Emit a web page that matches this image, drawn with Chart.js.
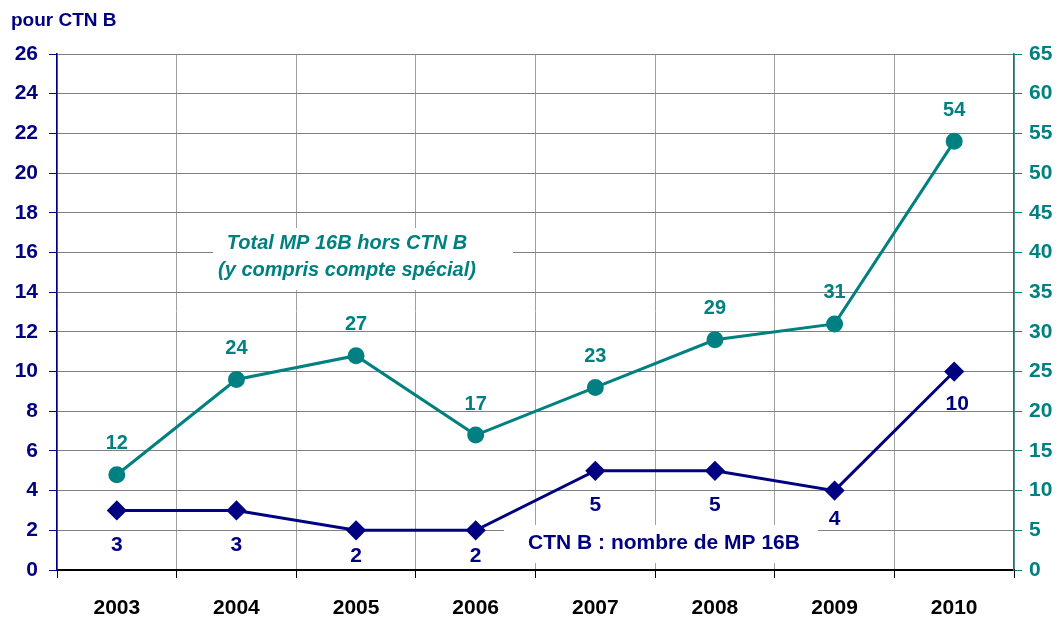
<!DOCTYPE html>
<html>
<head>
<meta charset="utf-8">
<script src="https://cdn.jsdelivr.net/npm/chart.js@4.4.1/dist/chart.umd.min.js"></script>
<style>
  html, body { margin: 0; padding: 0; background: #fff; }
  #wrap { width: 1058px; height: 619px; position: relative; }
</style>
</head>
<body>
<div id="wrap"><canvas id="chart" width="1058" height="619"></canvas></div>
<script>
// data
const years = ['2003', '2004', '2005', '2006', '2007', '2008', '2009', '2010'];
const ctnB = [3, 3, 2, 2, 5, 5, 4, 10];
const totalHorsCtnB = [12, 24, 27, 17, 23, 29, 31, 54];

const NAVY = '#000080';
const TEAL = '#008080';
const FONT = '"Liberation Sans", Arial, sans-serif';

// value labels above / below each point
const pointLabels = {
  id: 'pointLabels',
  afterDatasetsDraw(chart, args, opts) {
    const ctx = chart.ctx;
    ctx.save();
    ctx.textAlign = 'center';
    ctx.textBaseline = 'middle';
    chart.data.datasets.forEach((ds, i) => {
      const meta = chart.getDatasetMeta(i);
      ctx.fillStyle = ds.borderColor;
      ctx.font = (i === 0 ? 'bold 21px ' : 'bold 20px ') + FONT;
      meta.data.forEach((pt, j) => {
        const dy = i === 0 ? opts.below[j] : -31;
        ctx.fillText(String(ds.data[j]), pt.x + (i === 0 && j === 7 ? 3 : 0), pt.y + dy);
      });
    });
    ctx.restore();
  }
};

// text boxes and the title
const notes = {
  id: 'notes',
  beforeDatasetsDraw(chart) {
    const ctx = chart.ctx;
    ctx.save();
    ctx.fillStyle = '#fff';
    ctx.fillRect(213, 228, 300, 62);
    ctx.fillRect(504, 525, 314, 38);
    ctx.textAlign = 'center';
    ctx.textBaseline = 'middle';
    ctx.fillStyle = TEAL;
    ctx.font = 'italic bold 20px ' + FONT;
    ctx.fillText('Total MP 16B hors CTN B', 347, 243);
    ctx.fillText('(y compris compte spécial)', 347, 270);
    ctx.fillStyle = NAVY;
    ctx.font = 'bold 21px ' + FONT;
    ctx.fillText('CTN B : nombre de MP 16B', 664, 543);
    ctx.restore();
  },
  afterDraw(chart) {
    const ctx = chart.ctx;
    ctx.save();
    ctx.fillStyle = NAVY;
    ctx.font = 'bold 19px ' + FONT;
    ctx.textAlign = 'left';
    ctx.textBaseline = 'middle';
    ctx.fillText('pour CTN B', 11, 21);
    ctx.restore();
  }
};

new Chart(document.getElementById('chart'), {
  type: 'line',
  data: {
    labels: years,
    datasets: [
      {
        label: 'CTN B : nombre de MP 16B',
        data: ctnB,
        yAxisID: 'y',
        borderColor: NAVY,
        backgroundColor: NAVY,
        borderWidth: 3,
        pointStyle: 'rectRot',
        pointRadius: 8,
        pointHoverRadius: 8,
        tension: 0
      },
      {
        label: 'Total MP 16B hors CTN B',
        data: totalHorsCtnB,
        yAxisID: 'y1',
        borderColor: TEAL,
        backgroundColor: TEAL,
        borderWidth: 3,
        pointStyle: 'circle',
        pointRadius: 7,
        pointHoverRadius: 7,
        tension: 0
      }
    ]
  },
  options: {
    responsive: false,
    animation: false,
    layout: { padding: { top: 54, left: 0, right: 0, bottom: 0 } },
    plugins: {
      legend: { display: false },
      tooltip: { enabled: false },
      pointLabels: { below: [35, 35, 26, 26, 34, 34, 29, 33] }
    },
    scales: {
      x: {
        offset: true,
        grid: {
          offset: true,
          color: '#a0a0a0',
          lineWidth: 1,
          tickColor: '#000',
          tickLength: 8
        },
        border: { color: '#000', width: 2 },
        ticks: {
          color: '#000',
          font: { family: FONT, size: 21, weight: 'bold' },
          padding: 18,
          maxRotation: 0
        },
        afterFit(s) { s.height = 49; }
      },
      y: {
        position: 'left',
        min: 0,
        max: 26,
        grid: { color: '#808080', lineWidth: 1, tickColor: NAVY, tickLength: 8 },
        border: { color: NAVY, width: 1.5 },
        ticks: {
          stepSize: 2,
          color: NAVY,
          font: { family: FONT, size: 21, weight: 'bold' },
          padding: 11
        },
        afterFit(s) { s.width = 57; }
      },
      y1: {
        position: 'right',
        min: 0,
        max: 65,
        grid: { drawOnChartArea: false, tickColor: TEAL, tickLength: 8 },
        border: { color: TEAL, width: 1.5 },
        ticks: {
          stepSize: 5,
          color: TEAL,
          font: { family: FONT, size: 21, weight: 'bold' },
          padding: 7
        },
        afterFit(s) { s.width = 44; }
      }
    }
  },
  plugins: [notes, pointLabels]
});
</script>
</body>
</html>
